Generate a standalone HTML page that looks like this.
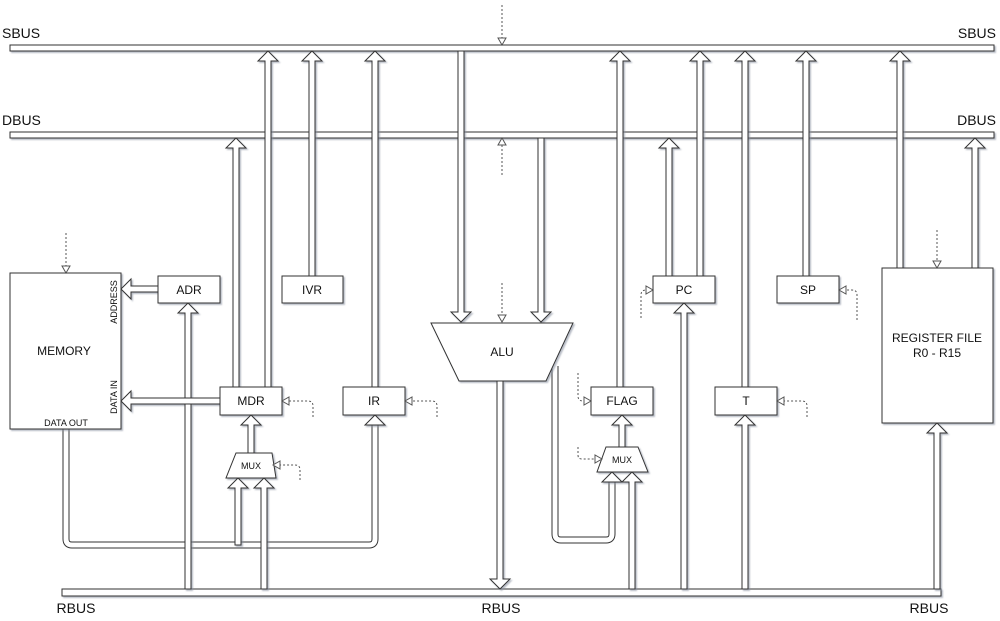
<!DOCTYPE html>
<html><head><meta charset="utf-8"><style>
html,body{margin:0;padding:0;background:#fff;}
svg{display:block;}
text{font-family:"Liberation Sans",sans-serif;fill:#111;}
</style></head><body>
<svg width="1000" height="621" viewBox="0 0 1000 621" xmlns="http://www.w3.org/2000/svg">
<defs>
<filter id="sh" x="-20%" y="-20%" width="140%" height="140%"><feDropShadow dx="1.5" dy="1.5" stdDeviation="0.8" flood-color="#8890a0" flood-opacity="0.6"/></filter>
</defs>
<g filter="url(#sh)" stroke="#333" stroke-width="1" fill="#fff">
<!-- buses -->
<rect x="10" y="45" width="984" height="6"/>
<rect x="10" y="132" width="984" height="6"/>
<rect x="62" y="589" width="879" height="7"/>
</g>
<!-- loops -->
<g fill="none" stroke-linejoin="round">
<path d="M66,429 V539 Q66,545 72,545 H369 Q375,545 375,539 V424" stroke="#333" stroke-width="7"/>
<path d="M66,428 V539 Q66,545 72,545 H369 Q375,545 375,539 V423" stroke="#fff" stroke-width="5"/>
<path d="M555,366 V534 Q555,540 561,540 H606 Q612,540 612,534 V481" stroke="#333" stroke-width="7"/>
<path d="M555,364 V534 Q555,540 561,540 H606 Q612,540 612,534 V480" stroke="#fff" stroke-width="5"/>
</g>
<g filter="url(#sh)" stroke="#333" stroke-width="1" fill="#fff">
<polygon points="372,425 365,425 375,415 385,425 378,425"/>
<polygon points="609,482 602,482 612,472 622,482 615,482"/>
<!-- up arrows -->
<polygon points="265,387 265,61 258,61 268,51 278,61 271,61 271,387"/>
<polygon points="233,387 233,148 226,148 236,138 246,148 239,148 239,387"/>
<polygon points="309,276 309,61 302,61 312,51 322,61 315,61 315,276"/>
<polygon points="372,387 372,61 365,61 375,51 385,61 378,61 378,387"/>
<polygon points="617,387 617,61 610,61 620,51 630,61 623,61 623,387"/>
<polygon points="666,276 666,148 659,148 669,138 679,148 672,148 672,276"/>
<polygon points="697,276 697,61 690,61 700,51 710,61 703,61 703,276"/>
<polygon points="742,387 742,61 735,61 745,51 755,61 748,61 748,387"/>
<polygon points="803,276 803,61 796,61 806,51 816,61 809,61 809,276"/>
<polygon points="897,268 897,61 890,61 900,51 910,61 903,61 903,268"/>
<polygon points="972,268 972,148 965,148 975,138 985,148 978,148 978,268"/>
<polygon points="185,589 185,313 178,313 188,303 198,313 191,313 191,589"/>
<polygon points="248,453 248,425 241,425 251,415 261,425 254,425 254,453"/>
<polygon points="235,545 235,488 228,488 238,478 248,488 241,488 241,545"/>
<polygon points="261,589 261,488 254,488 264,478 274,488 267,488 267,589"/>
<polygon points="619,447 619,425 612,425 622,415 632,425 625,425 625,447"/>
<polygon points="629,589 629,482 622,482 632,472 642,482 635,482 635,589"/>
<polygon points="681,589 681,313 674,313 684,303 694,313 687,313 687,589"/>
<polygon points="742,589 742,425 735,425 745,415 755,425 748,425 748,589"/>
<polygon points="934,589 934,433 927,433 937,423 947,433 940,433 940,589"/>
<!-- down arrows -->
<polygon points="458,51 458,312 451,312 461,322 471,312 464,312 464,51"/>
<polygon points="538,138 538,312 531,312 541,322 551,312 544,312 544,138"/>
<polygon points="497,381 497,579 490,579 500,589 510,579 503,579 503,381"/>
<!-- left arrows -->
<polygon points="158,286 131,286 131,279 121,289 131,299 131,292 158,292"/>
<polygon points="220,398 131,398 131,391 121,401 131,411 131,404 220,404"/>
<!-- boxes -->
<rect x="10" y="273" width="111" height="156"/>
<rect x="158" y="276" width="62" height="27"/>
<rect x="282" y="276" width="61" height="27"/>
<rect x="220" y="387" width="62" height="28"/>
<rect x="343" y="387" width="62" height="28"/>
<rect x="591" y="387" width="62" height="28"/>
<rect x="653" y="276" width="62" height="27"/>
<rect x="777" y="276" width="62" height="27"/>
<rect x="715" y="387" width="62" height="28"/>
<rect x="882" y="268" width="111" height="155"/>
<polygon points="431,323 573,323 546,381 459,381"/>
<polygon points="236,453 272,453 276,478 226,478"/>
<polygon points="606,447 638,447 648,472 597,472"/>
</g>
<!-- dotted control arrows -->
<g fill="none" stroke="#555" stroke-width="1" stroke-dasharray="2,2">
<path d="M502,5 V38"/>
<path d="M502,175 V145"/>
<path d="M502,283 V315"/>
<path d="M66,233 V266"/>
<path d="M937,230 V261"/>
<path d="M313,417 V406 Q313,401 308,401 H289"/>
<path d="M437,417 V406 Q437,401 432,401 H412"/>
<path d="M300,480 V470 Q300,465 295,465 H280"/>
<path d="M578,373 V396 Q578,401 583,401 H584"/>
<path d="M578,447 V455 Q578,459 582,459 H595"/>
<path d="M641,318 V295 Q641,290 646,290"/>
<path d="M857,320 V295 Q857,290 852,290 H846"/>
<path d="M807,417 V406 Q807,401 802,401 H784"/>
</g>
<g fill="#fff" stroke="#555" stroke-width="1">
<polygon points="498,38 506,38 502,45"/>
<polygon points="498,145 506,145 502,138"/>
<polygon points="498,315 506,315 502,322"/>
<polygon points="62,266 70,266 66,273"/>
<polygon points="933,261 941,261 937,268"/>
<polygon points="289,397 289,405 282,401"/>
<polygon points="412,397 412,405 405,401"/>
<polygon points="280,461 280,469 273,465"/>
<polygon points="584,397 584,405 591,401"/>
<polygon points="595,455 595,463 602,459"/>
<polygon points="646,286 646,294 653,290"/>
<polygon points="846,286 846,294 839,290"/>
<polygon points="784,397 784,405 777,401"/>
</g>
<!-- labels -->
<g font-size="14">
<text x="2" y="38">SBUS</text>
<text x="996" y="38" text-anchor="end">SBUS</text>
<text x="2" y="125">DBUS</text>
<text x="996" y="125" text-anchor="end">DBUS</text>
<text x="76" y="613" text-anchor="middle">RBUS</text>
<text x="501" y="613" text-anchor="middle">RBUS</text>
<text x="929" y="613" text-anchor="middle">RBUS</text>
</g>
<g font-size="12" text-anchor="middle">
<text x="64" y="355">MEMORY</text>
<text x="189" y="294">ADR</text>
<text x="312" y="294">IVR</text>
<text x="251" y="405">MDR</text>
<text x="374" y="405">IR</text>
<text x="502" y="356">ALU</text>
<text x="622" y="405">FLAG</text>
<text x="684" y="294">PC</text>
<text x="808" y="294">SP</text>
<text x="746" y="405">T</text>
<text x="937" y="342">REGISTER FILE</text>
<text x="937" y="357">R0 - R15</text>
</g>
<g font-size="9" text-anchor="middle">
<text x="66" y="426">DATA OUT</text>
<text x="251" y="469" fill="#444">MUX</text>
<text x="622" y="463" fill="#444">MUX</text>
<text transform="translate(117,302) rotate(-90)">ADDRESS</text>
<text transform="translate(117,397) rotate(-90)">DATA IN</text>
</g>
</svg>
</body></html>
